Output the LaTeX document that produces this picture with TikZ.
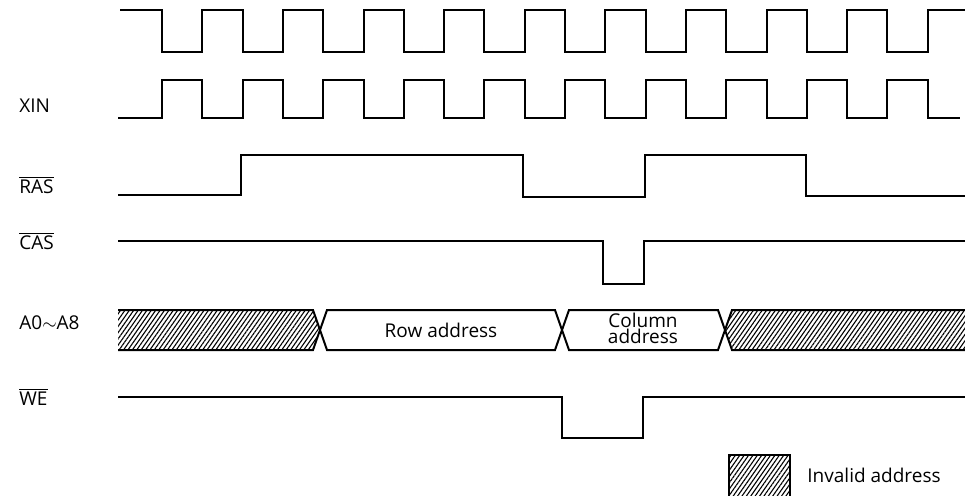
\documentclass[tikz,border=0pt]{standalone}
\usepackage{fontspec}
\setmainfont{Open Sans}
\usetikzlibrary{patterns.meta}

\begin{document}
\begin{tikzpicture}[
  x=0.5pt, y=-0.5pt,
  font=\fontsize{9.5}{11}\selectfont,
  sig/.style={draw=black, line width=1pt, line join=miter},
  hatch/.style={pattern={Lines[angle=55, distance=1.8pt, line width=0.55pt]}},
  lbl/.style={anchor=west, inner sep=0pt}
]
\useasboundingbox (0,0) rectangle (965,495);

% signal names
\node[lbl] (xin) at (19,106) {XIN};
\node[lbl] (ras) at (19,185) {$\overline{\mbox{RAS}}$};
\node[lbl] (cas) at (19,241) {$\overline{\mbox{CAS}}$};
\node[lbl] (addr) at (19,323) {A0$\sim$A8};
\node[lbl] (we) at (19,397) {$\overline{\mbox{WE}}$};

% clocks
\draw[sig] (120,10) foreach \k in {0,...,9} {
  -- ({162+80.6*\k},10) -- ({162+80.6*\k},52)
  -- ({202.3+80.6*\k},52) -- ({202.3+80.6*\k},10) } -- (966,10);
\draw[sig] (118,118) foreach \k in {0,...,9} {
  -- ({162+80.6*\k},118) -- ({162+80.6*\k},80)
  -- ({202.3+80.6*\k},80) -- ({202.3+80.6*\k},118) } -- (960,118);

% RAS, CAS
\draw[sig] (118,195) -- (241,195) -- (241,155) -- (523,155) -- (523,197)
  -- (645,197) -- (645,155) -- (806,155) -- (806,196) -- (966,196);
\draw[sig] (118,241) -- (603,241) -- (603,284) -- (644,284) -- (644,241) -- (966,241);

% address bus
\fill[hatch] (118,310) -- (313,310) -- (320,330) -- (313,350) -- (118,350) -- cycle;
\fill[hatch] (725,330) -- (732,310) -- (966,310) -- (966,350) -- (732,350) -- cycle;
\draw[sig] (118,310) -- (313,310) -- (327,350) -- (555,350) -- (569,310)
  -- (718,310) -- (732,350) -- (966,350);
\draw[sig] (118,350) -- (313,350) -- (327,310) -- (555,310) -- (569,350)
  -- (718,350) -- (732,310) -- (966,310);
\node (row) at (441,330) {Row address};
\node[align=center, font=\fontsize{9.5}{8}\selectfont] (col) at (643,328) {Column\\address};

% WE
\draw[sig] (118,397) -- (562,397) -- (562,438) -- (643,438) -- (643,397) -- (966,397);

% legend
\draw[hatch, line width=1pt] (729,455) rectangle (790,500);
\node[lbl] (inv) at (807,475) {Invalid address};
\end{tikzpicture}
\end{document}
